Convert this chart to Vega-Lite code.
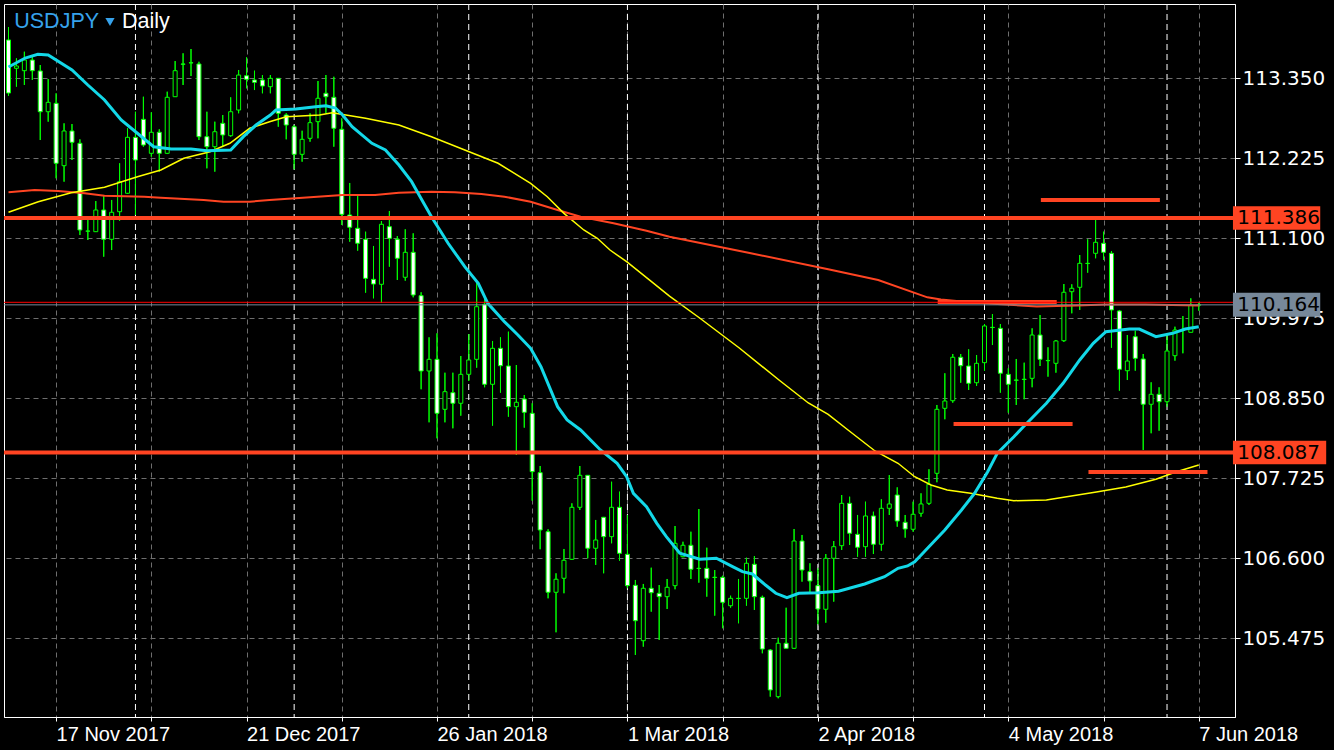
{
"$schema": "https://vega.github.io/schema/vega-lite/v6.json",
"width": 1231, "height": 713,
"autosize": {"type": "none"},
"padding": {"left": 4, "top": 4, "right": 99, "bottom": 33},
"background": "#000000",
"config": {"view": {"stroke": "#ffffff", "strokeWidth": 1}},
"datasets": {
"c": [
{"i":0,"o":113.889,"h":114.071,"l":113.101,"c":113.143},
{"i":1,"o":113.491,"h":113.631,"l":113.232,"c":113.523},
{"i":2,"o":113.457,"h":113.724,"l":113.256,"c":113.607},
{"i":3,"o":113.607,"h":113.678,"l":113.326,"c":113.457},
{"i":4,"o":113.453,"h":113.537,"l":112.482,"c":112.880},
{"i":5,"o":112.880,"h":113.340,"l":112.740,"c":113.012},
{"i":6,"o":112.998,"h":113.139,"l":111.944,"c":112.155},
{"i":7,"o":112.121,"h":112.717,"l":111.896,"c":112.609},
{"i":8,"o":112.609,"h":112.707,"l":112.201,"c":112.450},
{"i":9,"o":112.436,"h":112.492,"l":111.146,"c":111.217},
{"i":10,"o":111.203,"h":111.357,"l":111.076,"c":111.200},
{"i":11,"o":111.193,"h":111.624,"l":111.189,"c":111.498},
{"i":12,"o":111.498,"h":111.699,"l":110.841,"c":111.086},
{"i":13,"o":111.086,"h":111.639,"l":110.935,"c":111.466},
{"i":14,"o":111.474,"h":112.155,"l":111.347,"c":111.896},
{"i":15,"o":111.733,"h":112.647,"l":111.723,"c":112.520},
{"i":16,"o":112.520,"h":112.880,"l":111.428,"c":112.201},
{"i":17,"o":112.773,"h":113.091,"l":112.388,"c":112.412},
{"i":18,"o":112.295,"h":112.872,"l":112.247,"c":112.591},
{"i":19,"o":112.591,"h":112.633,"l":112.037,"c":112.295},
{"i":20,"o":112.295,"h":113.162,"l":112.285,"c":113.083},
{"i":21,"o":113.091,"h":113.593,"l":113.087,"c":113.457},
{"i":22,"o":113.551,"h":113.702,"l":113.256,"c":113.548},
{"i":23,"o":113.569,"h":113.762,"l":113.382,"c":113.566},
{"i":24,"o":113.551,"h":113.583,"l":112.482,"c":112.529},
{"i":25,"o":112.529,"h":112.880,"l":112.084,"c":112.388},
{"i":26,"o":112.388,"h":112.740,"l":112.037,"c":112.599},
{"i":27,"o":112.717,"h":112.834,"l":112.388,"c":112.553},
{"i":28,"o":112.543,"h":113.083,"l":112.529,"c":112.880},
{"i":29,"o":112.904,"h":113.467,"l":112.858,"c":113.396},
{"i":30,"o":113.386,"h":113.645,"l":113.209,"c":113.336},
{"i":31,"o":113.326,"h":113.457,"l":113.185,"c":113.294},
{"i":32,"o":113.326,"h":113.396,"l":113.139,"c":113.242},
{"i":33,"o":113.232,"h":113.396,"l":113.139,"c":113.350},
{"i":34,"o":113.350,"h":113.354,"l":112.669,"c":112.858},
{"i":35,"o":112.834,"h":112.858,"l":112.492,"c":112.693},
{"i":36,"o":112.669,"h":112.693,"l":112.070,"c":112.281},
{"i":37,"o":112.281,"h":112.613,"l":112.177,"c":112.492},
{"i":38,"o":112.506,"h":112.858,"l":112.458,"c":112.726},
{"i":39,"o":112.740,"h":113.312,"l":112.506,"c":113.069},
{"i":40,"o":113.139,"h":113.396,"l":112.858,"c":113.091},
{"i":41,"o":113.083,"h":113.372,"l":112.388,"c":112.647},
{"i":42,"o":112.633,"h":112.787,"l":111.287,"c":111.437},
{"i":43,"o":111.428,"h":111.878,"l":111.052,"c":111.255},
{"i":44,"o":111.241,"h":111.695,"l":110.926,"c":111.030},
{"i":45,"o":111.086,"h":111.193,"l":110.335,"c":110.537},
{"i":46,"o":110.523,"h":110.992,"l":110.256,"c":110.457},
{"i":47,"o":110.453,"h":111.343,"l":110.194,"c":111.297},
{"i":48,"o":111.263,"h":111.484,"l":110.701,"c":111.100},
{"i":49,"o":111.086,"h":111.132,"l":110.514,"c":110.819},
{"i":50,"o":110.552,"h":111.227,"l":110.504,"c":110.903},
{"i":51,"o":110.903,"h":111.170,"l":110.270,"c":110.303},
{"i":52,"o":110.293,"h":110.341,"l":108.977,"c":109.234},
{"i":53,"o":109.234,"h":109.708,"l":108.512,"c":109.398},
{"i":54,"o":109.398,"h":109.764,"l":108.287,"c":108.639},
{"i":55,"o":108.695,"h":109.210,"l":108.512,"c":108.943},
{"i":56,"o":108.929,"h":109.210,"l":108.428,"c":108.780},
{"i":57,"o":108.780,"h":109.445,"l":108.605,"c":109.187},
{"i":58,"o":109.187,"h":109.754,"l":109.093,"c":109.389},
{"i":59,"o":109.398,"h":110.476,"l":109.280,"c":110.138},
{"i":60,"o":110.172,"h":110.289,"l":109.005,"c":109.047},
{"i":61,"o":109.047,"h":109.656,"l":108.465,"c":109.553},
{"i":62,"o":109.553,"h":109.708,"l":108.929,"c":109.308},
{"i":63,"o":109.304,"h":109.787,"l":108.591,"c":108.732},
{"i":64,"o":108.732,"h":109.318,"l":108.053,"c":108.794},
{"i":65,"o":108.840,"h":108.896,"l":108.437,"c":108.653},
{"i":66,"o":108.639,"h":108.780,"l":107.410,"c":107.818},
{"i":67,"o":107.804,"h":107.898,"l":106.727,"c":106.998},
{"i":68,"o":106.974,"h":107.008,"l":106.037,"c":106.122},
{"i":69,"o":106.122,"h":106.389,"l":105.559,"c":106.305},
{"i":70,"o":106.319,"h":106.731,"l":106.108,"c":106.572},
{"i":71,"o":106.586,"h":107.373,"l":106.576,"c":107.317},
{"i":72,"o":107.317,"h":107.898,"l":107.279,"c":107.767},
{"i":73,"o":107.767,"h":107.771,"l":106.600,"c":106.741},
{"i":74,"o":106.741,"h":107.139,"l":106.506,"c":106.857},
{"i":75,"o":107.177,"h":107.181,"l":106.389,"c":106.904},
{"i":76,"o":106.904,"h":107.677,"l":106.811,"c":107.317},
{"i":77,"o":107.317,"h":107.537,"l":106.566,"c":106.670},
{"i":78,"o":106.656,"h":107.209,"l":106.178,"c":106.215},
{"i":79,"o":106.220,"h":106.295,"l":105.240,"c":105.722},
{"i":80,"o":105.441,"h":106.239,"l":105.357,"c":106.178},
{"i":81,"o":106.178,"h":106.468,"l":105.849,"c":106.116},
{"i":82,"o":106.108,"h":106.224,"l":105.451,"c":106.060},
{"i":83,"o":106.060,"h":106.309,"l":105.887,"c":106.192},
{"i":84,"o":106.215,"h":107.054,"l":106.164,"c":106.811},
{"i":85,"o":106.622,"h":106.833,"l":106.614,"c":106.783},
{"i":86,"o":106.783,"h":106.974,"l":106.309,"c":106.445},
{"i":87,"o":106.459,"h":107.293,"l":106.257,"c":106.456},
{"i":88,"o":106.459,"h":106.749,"l":106.060,"c":106.319},
{"i":89,"o":106.333,"h":106.435,"l":105.793,"c":106.330},
{"i":90,"o":106.333,"h":106.355,"l":105.616,"c":105.981},
{"i":91,"o":105.933,"h":106.074,"l":105.905,"c":106.037},
{"i":92,"o":106.037,"h":106.309,"l":105.686,"c":106.034},
{"i":93,"o":106.037,"h":106.608,"l":105.933,"c":106.530},
{"i":94,"o":106.516,"h":106.632,"l":105.873,"c":106.060},
{"i":95,"o":106.051,"h":106.074,"l":105.264,"c":105.324},
{"i":96,"o":105.310,"h":105.324,"l":104.654,"c":104.748},
{"i":97,"o":104.654,"h":105.483,"l":104.631,"c":105.405},
{"i":98,"o":105.405,"h":105.905,"l":105.334,"c":105.334},
{"i":99,"o":105.334,"h":107.012,"l":105.324,"c":106.843},
{"i":100,"o":106.843,"h":106.928,"l":106.271,"c":106.435},
{"i":101,"o":106.412,"h":106.530,"l":106.108,"c":106.281},
{"i":102,"o":106.215,"h":106.459,"l":105.672,"c":105.887},
{"i":103,"o":105.883,"h":106.660,"l":105.694,"c":106.600},
{"i":104,"o":106.600,"h":106.843,"l":105.990,"c":106.763},
{"i":105,"o":106.777,"h":107.490,"l":106.717,"c":107.373},
{"i":106,"o":107.373,"h":107.466,"l":106.787,"c":106.952},
{"i":107,"o":106.937,"h":107.209,"l":106.622,"c":106.755},
{"i":108,"o":106.763,"h":107.396,"l":106.622,"c":107.195},
{"i":109,"o":107.195,"h":107.255,"l":106.660,"c":106.797},
{"i":110,"o":106.797,"h":107.430,"l":106.707,"c":107.303},
{"i":111,"o":107.303,"h":107.771,"l":107.209,"c":107.364},
{"i":112,"o":107.490,"h":107.598,"l":107.044,"c":107.124},
{"i":113,"o":107.106,"h":107.209,"l":106.890,"c":107.012},
{"i":114,"o":107.008,"h":107.396,"l":106.974,"c":107.219},
{"i":115,"o":107.233,"h":107.514,"l":107.185,"c":107.364},
{"i":116,"o":107.373,"h":107.852,"l":107.349,"c":107.641},
{"i":117,"o":107.795,"h":108.756,"l":107.669,"c":108.695},
{"i":118,"o":108.709,"h":109.202,"l":108.555,"c":108.812},
{"i":119,"o":108.816,"h":109.473,"l":108.788,"c":109.427},
{"i":120,"o":109.427,"h":109.473,"l":109.069,"c":109.308},
{"i":121,"o":109.304,"h":109.539,"l":108.967,"c":109.061},
{"i":122,"o":109.069,"h":109.459,"l":109.023,"c":109.342},
{"i":123,"o":109.351,"h":109.895,"l":109.238,"c":109.867},
{"i":124,"o":109.848,"h":110.035,"l":109.599,"c":109.845},
{"i":125,"o":109.834,"h":109.895,"l":108.929,"c":109.202},
{"i":126,"o":109.187,"h":109.272,"l":108.647,"c":109.047},
{"i":127,"o":109.107,"h":109.403,"l":108.756,"c":109.104},
{"i":128,"o":109.114,"h":109.351,"l":108.836,"c":109.118},
{"i":129,"o":109.131,"h":109.834,"l":109.005,"c":109.740},
{"i":130,"o":109.740,"h":110.021,"l":109.304,"c":109.398},
{"i":131,"o":109.379,"h":109.567,"l":109.154,"c":109.382},
{"i":132,"o":109.342,"h":109.670,"l":109.210,"c":109.656},
{"i":133,"o":109.660,"h":110.457,"l":109.642,"c":110.341},
{"i":134,"o":110.349,"h":110.453,"l":110.045,"c":110.397},
{"i":135,"o":110.411,"h":110.865,"l":110.092,"c":110.748},
{"i":136,"o":110.748,"h":111.086,"l":110.616,"c":110.745},
{"i":137,"o":110.889,"h":111.357,"l":110.819,"c":111.044},
{"i":138,"o":111.030,"h":111.193,"l":110.795,"c":110.903},
{"i":139,"o":110.889,"h":110.921,"l":109.561,"c":110.092},
{"i":140,"o":110.078,"h":110.092,"l":108.957,"c":109.258},
{"i":141,"o":109.238,"h":109.740,"l":109.107,"c":109.374},
{"i":142,"o":109.716,"h":109.800,"l":109.238,"c":109.412},
{"i":143,"o":109.403,"h":109.473,"l":108.123,"c":108.766},
{"i":144,"o":108.766,"h":109.075,"l":108.358,"c":108.906},
{"i":145,"o":108.906,"h":109.005,"l":108.394,"c":108.802},
{"i":146,"o":108.802,"h":109.740,"l":108.732,"c":109.515},
{"i":147,"o":109.449,"h":109.857,"l":109.379,"c":109.810},
{"i":148,"o":109.810,"h":110.007,"l":109.483,"c":109.806},
{"i":149,"o":109.778,"h":110.256,"l":109.778,"c":110.162},
{"i":150,"o":110.160,"h":110.195,"l":110.082,"c":110.164}
],
"ma21": [
{"i":0,"p":113.509},{"i":2.1,"p":113.635},{"i":3.7,"p":113.687},{"i":5.0,"p":113.678},{"i":8.0,"p":113.467},{"i":10.0,"p":113.256},{"i":12.1,"p":113.045},{"i":14.2,"p":112.764},{"i":16.2,"p":112.581},{"i":18.3,"p":112.388},{"i":20.5,"p":112.356},{"i":23.0,"p":112.356},{"i":25.0,"p":112.332},{"i":28.0,"p":112.342},{"i":29.6,"p":112.529},{"i":31.2,"p":112.693},{"i":33.0,"p":112.834},{"i":33.7,"p":112.904},{"i":36.2,"p":112.918},{"i":38.7,"p":112.951},{"i":40.0,"p":112.965},{"i":41.2,"p":112.932},{"i":42.1,"p":112.834},{"i":43.3,"p":112.669},{"i":45.8,"p":112.436},{"i":47.5,"p":112.342},{"i":49.2,"p":112.131},{"i":50.8,"p":111.896},{"i":52.1,"p":111.639},{"i":53.3,"p":111.404},{"i":55.4,"p":111.030},{"i":57.5,"p":110.701},{"i":59.2,"p":110.467},{"i":60.4,"p":110.186},{"i":62.5,"p":109.927},{"i":64.2,"p":109.740},{"i":65.8,"p":109.553},{"i":67.1,"p":109.294},{"i":69.2,"p":108.732},{"i":70.4,"p":108.545},{"i":72.1,"p":108.404},{"i":74.6,"p":108.123},{"i":76.7,"p":107.936},{"i":77.9,"p":107.747},{"i":78.75,"p":107.514},{"i":80.4,"p":107.326},{"i":81.7,"p":107.092},{"i":82.9,"p":106.904},{"i":84.6,"p":106.670},{"i":87.1,"p":106.586},{"i":89.2,"p":106.600},{"i":91.25,"p":106.482},{"i":92.5,"p":106.412},{"i":93.75,"p":106.379},{"i":95.4,"p":106.224},{"i":96.7,"p":106.108},{"i":98.1,"p":106.046},{"i":99.6,"p":106.108},{"i":102.1,"p":106.116},{"i":104.6,"p":106.136},{"i":107.9,"p":106.239},{"i":110.4,"p":106.341},{"i":112.1,"p":106.459},{"i":113.3,"p":106.492},{"i":114.2,"p":106.552},{"i":115.4,"p":106.693},{"i":118.0,"p":106.998},{"i":120.1,"p":107.279},{"i":121.75,"p":107.514},{"i":123.4,"p":107.818},{"i":124.6,"p":108.076},{"i":126.7,"p":108.310},{"i":127.9,"p":108.451},{"i":130.8,"p":108.780},{"i":132.9,"p":109.061},{"i":135.0,"p":109.389},{"i":136.7,"p":109.623},{"i":138.3,"p":109.786},{"i":141.25,"p":109.824},{"i":142.5,"p":109.824},{"i":144.6,"p":109.716},{"i":146.7,"p":109.764},{"i":148.3,"p":109.824},{"i":150,"p":109.857}
],
"ma50": [
{"i":0,"p":111.466},{"i":3.75,"p":111.615},{"i":7.9,"p":111.741},{"i":12.1,"p":111.817},{"i":16.25,"p":111.966},{"i":19.2,"p":112.060},{"i":22.1,"p":112.225},{"i":25.4,"p":112.318},{"i":27.9,"p":112.436},{"i":30.4,"p":112.647},{"i":32.9,"p":112.740},{"i":35.0,"p":112.810},{"i":39.2,"p":112.834},{"i":40.8,"p":112.866},{"i":45.0,"p":112.787},{"i":49.2,"p":112.693},{"i":53.3,"p":112.529},{"i":57.5,"p":112.342},{"i":61.7,"p":112.155},{"i":65.8,"p":111.873},{"i":67.9,"p":111.685},{"i":70.0,"p":111.451},{"i":72.5,"p":111.217},{"i":74.2,"p":111.100},{"i":75.8,"p":110.935},{"i":77.9,"p":110.771},{"i":80.8,"p":110.513},{"i":83.3,"p":110.288},{"i":87.1,"p":109.979},{"i":92.1,"p":109.557},{"i":97.1,"p":109.107},{"i":100.8,"p":108.784},{"i":103.3,"p":108.625},{"i":105.8,"p":108.404},{"i":109.2,"p":108.109},{"i":112.1,"p":107.936},{"i":114.2,"p":107.747},{"i":116.25,"p":107.631},{"i":118.3,"p":107.560},{"i":121.25,"p":107.514},{"i":124.6,"p":107.444},{"i":126.7,"p":107.410},{"i":130.8,"p":107.420},{"i":137.1,"p":107.532},{"i":140.8,"p":107.603},{"i":144.6,"p":107.711},{"i":147.1,"p":107.814},{"i":150,"p":107.912}
],
"ma200": [
{"i":0,"p":111.747},{"i":3.3,"p":111.779},{"i":6.25,"p":111.765},{"i":9.6,"p":111.733},{"i":12.1,"p":111.699},{"i":17.1,"p":111.685},{"i":19.2,"p":111.671},{"i":24.6,"p":111.639},{"i":27.1,"p":111.615},{"i":30.4,"p":111.615},{"i":32.9,"p":111.639},{"i":37.1,"p":111.671},{"i":42.1,"p":111.709},{"i":46.2,"p":111.709},{"i":49.2,"p":111.741},{"i":53.3,"p":111.755},{"i":56.25,"p":111.747},{"i":59.6,"p":111.723},{"i":62.5,"p":111.685},{"i":65.8,"p":111.615},{"i":69.2,"p":111.498},{"i":72.1,"p":111.404},{"i":76.25,"p":111.311},{"i":80.4,"p":111.207},{"i":83.3,"p":111.122},{"i":93.4,"p":110.893},{"i":103.3,"p":110.664},{"i":109.6,"p":110.513},{"i":115.8,"p":110.270},{"i":117.5,"p":110.239},{"i":120.8,"p":110.204},{"i":124.6,"p":110.176},{"i":129.6,"p":110.141},{"i":134.6,"p":110.155},{"i":138.3,"p":110.169},{"i":143.3,"p":110.169},{"i":150,"p":110.155}
],
"seps": [{"i":16},{"i":36},{"i":58},{"i":78},{"i":102},{"i":123},{"i":146}],
"segs": [
{"i0":130.1,"i1":145.1,"p":111.639},
{"i0":117.1,"i1":132.1,"p":110.204},
{"i0":119.1,"i1":134.1,"p":108.489},
{"i0":136.1,"i1":151.1,"p":107.814}
],
"levels": [{"p":111.386},{"p":108.087}]
},
"layer": [
{
"data": {"name": "c"},
"mark": {"type": "rule", "color": "#00ff00", "strokeWidth": 1, "clip": true},
"encoding": {
"x": {"field": "i", "type": "quantitative", "title": null,
"scale": {"domain": [0.0625, 153.9375], "nice": false, "zero": false},
"axis": {"values": [6,18,30,42,54,66,78,90,102,114,126,138,150],
"labelExpr": "datum.value == 6 ? '17 Nov 2017' : datum.value == 30 ? '21 Dec 2017' : datum.value == 54 ? '26 Jan 2018' : datum.value == 78 ? '1 Mar 2018' : datum.value == 102 ? '2 Apr 2018' : datum.value == 126 ? '4 May 2018' : datum.value == 150 ? '7 Jun 2018' : ''",
"labelAlign": "left", "labelColor": "#ffffff", "labelFont": "Liberation Sans Narrow, Liberation Sans", "labelFontSize": 20, "labelPadding": 3,
"labelOverlap": false, "labelFlush": false, "labelBound": false,
"tickColor": "#ffffff", "tickSize": 4, "domainColor": "#ffffff",
"grid": true, "gridColor": "#6e6e6e", "gridDash": [5, 4], "gridWidth": 1, "title": null}},
"y": {"field": "l", "type": "quantitative", "title": null,
"scale": {"domain": [104.368, 114.395], "nice": false, "zero": false},
"axis": {"orient": "right", "values": [105.475, 106.6, 107.725, 108.85, 109.975, 111.1, 112.225, 113.35], "format": ".3f",
"labelColor": "#ffffff", "labelFont": "DejaVu Sans", "labelFontSize": 20, "labelPadding": 2,
"labelOverlap": false, "labelFlush": false, "labelBound": false,
"tickColor": "#ffffff", "tickSize": 5, "domainColor": "#ffffff",
"grid": true, "gridColor": "#6e6e6e", "gridDash": [5, 4], "gridWidth": 1, "title": null}},
"y2": {"field": "h"}
}
},
{
"data": {"name": "seps"},
"mark": {"type": "rule", "color": "#ffffff", "strokeWidth": 1, "strokeDash": [6, 4]},
"encoding": {
"x": {"field": "i", "type": "quantitative", "scale": {"domain": [0.0625, 153.9375], "nice": false, "zero": false}, "title": null}
}
},
{
"data": {"name": "c"},
"mark": {"type": "rule", "color": "#00ff00", "strokeWidth": 1, "clip": true},
"encoding": {
"x": {"field": "i", "type": "quantitative", "scale": {"domain": [0.0625, 153.9375], "nice": false, "zero": false}, "title": null},
"y": {"field": "l", "type": "quantitative", "scale": {"domain": [104.368, 114.395], "nice": false, "zero": false}, "title": null},
"y2": {"field": "h"}
}
},
{
"data": {"name": "c"},
"mark": {"type": "bar", "width": 4, "stroke": "#00ff00", "strokeWidth": 1, "clip": true},
"encoding": {
"x": {"field": "i", "type": "quantitative", "scale": {"domain": [0.0625, 153.9375], "nice": false, "zero": false}, "title": null},
"y": {"field": "o", "type": "quantitative", "scale": {"domain": [104.368, 114.395], "nice": false, "zero": false}, "title": null},
"y2": {"field": "c"},
"fill": {"condition": {"test": "datum.c >= datum.o", "value": "#000000"}, "value": "#ffffff"}
}
},
{
"data": {"name": "ma200"},
"mark": {"type": "line", "color": "#ff4422", "strokeWidth": 2, "clip": true},
"encoding": {
"x": {"field": "i", "type": "quantitative", "scale": {"domain": [0.0625, 153.9375], "nice": false, "zero": false}, "title": null},
"y": {"field": "p", "type": "quantitative", "scale": {"domain": [104.368, 114.395], "nice": false, "zero": false}, "title": null}
}
},
{
"data": {"name": "ma50"},
"mark": {"type": "line", "color": "#ffff00", "strokeWidth": 1.5, "clip": true},
"encoding": {
"x": {"field": "i", "type": "quantitative", "scale": {"domain": [0.0625, 153.9375], "nice": false, "zero": false}, "title": null},
"y": {"field": "p", "type": "quantitative", "scale": {"domain": [104.368, 114.395], "nice": false, "zero": false}, "title": null}
}
},
{
"data": {"name": "ma21"},
"mark": {"type": "line", "color": "#13d8e8", "strokeWidth": 3, "clip": true},
"encoding": {
"x": {"field": "i", "type": "quantitative", "scale": {"domain": [0.0625, 153.9375], "nice": false, "zero": false}, "title": null},
"y": {"field": "p", "type": "quantitative", "scale": {"domain": [104.368, 114.395], "nice": false, "zero": false}, "title": null}
}
},
{
"data": {"name": "segs"},
"mark": {"type": "rule", "color": "#ff4422", "strokeWidth": 4, "clip": true},
"encoding": {
"x": {"field": "i0", "type": "quantitative", "scale": {"domain": [0.0625, 153.9375], "nice": false, "zero": false}, "title": null},
"x2": {"field": "i1"},
"y": {"field": "p", "type": "quantitative", "scale": {"domain": [104.368, 114.395], "nice": false, "zero": false}, "title": null}
}
},
{
"data": {"name": "levels"},
"mark": {"type": "rule", "color": "#ff4422", "strokeWidth": 4},
"encoding": {
"y": {"field": "p", "type": "quantitative", "scale": {"domain": [104.368, 114.395], "nice": false, "zero": false}, "title": null}
}
},
{
"data": {"values": [{"p": 110.200}]},
"mark": {"type": "rule", "color": "#ff0000", "strokeWidth": 1},
"encoding": {
"y": {"field": "p", "type": "quantitative", "scale": {"domain": [104.368, 114.395], "nice": false, "zero": false}, "title": null}
}
},
{
"data": {"values": [{"p": 110.164}]},
"mark": {"type": "rule", "color": "#778899", "strokeWidth": 1},
"encoding": {
"y": {"field": "p", "type": "quantitative", "scale": {"domain": [104.368, 114.395], "nice": false, "zero": false}, "title": null}
}
},
{
"data": {"values": [{"p": 111.386}]},
"mark": {"type": "rule", "color": "#ff4422", "strokeWidth": 23.5, "strokeCap": "butt"},
"encoding": {
"x": {"datum": 154.31, "type": "quantitative", "scale": {"domain": [0.0625, 153.9375], "nice": false, "zero": false}, "title": null},
"x2": {"datum": 165.31},
"y": {"field": "p", "type": "quantitative", "scale": {"domain": [104.368, 114.395], "nice": false, "zero": false}, "title": null}
}
},
{
"data": {"values": [{"p": 108.087}]},
"mark": {"type": "rule", "color": "#ff4422", "strokeWidth": 23.5, "strokeCap": "butt"},
"encoding": {
"x": {"datum": 154.31, "type": "quantitative", "scale": {"domain": [0.0625, 153.9375], "nice": false, "zero": false}, "title": null},
"x2": {"datum": 166.06},
"y": {"field": "p", "type": "quantitative", "scale": {"domain": [104.368, 114.395], "nice": false, "zero": false}, "title": null}
}
},
{
"data": {"values": [{"p": 110.164}]},
"mark": {"type": "rule", "color": "#778899", "strokeWidth": 24, "strokeCap": "butt"},
"encoding": {
"x": {"datum": 154.31, "type": "quantitative", "scale": {"domain": [0.0625, 153.9375], "nice": false, "zero": false}, "title": null},
"x2": {"datum": 165.31},
"y": {"field": "p", "type": "quantitative", "scale": {"domain": [104.368, 114.395], "nice": false, "zero": false}, "title": null}
}
},
{
"data": {"values": [{"p": 111.386}, {"p": 108.087}, {"p": 110.164}]},
"mark": {"type": "text", "align": "left", "baseline": "middle", "font": "DejaVu Sans", "fontSize": 20, "color": "#000000"},
"encoding": {
"x": {"datum": 154.85, "type": "quantitative", "scale": {"domain": [0.0625, 153.9375], "nice": false, "zero": false}, "title": null},
"y": {"field": "p", "type": "quantitative", "scale": {"domain": [104.368, 114.395], "nice": false, "zero": false}, "title": null},
"text": {"field": "p", "type": "quantitative", "format": ".3f"}
}
},
{
"data": {"values": [{"t": "USDJPY"}]},
"mark": {"type": "text", "align": "left", "baseline": "alphabetic", "font": "Liberation Sans", "fontSize": 21.5, "color": "#36a2eb"},
"encoding": {
"x": {"datum": 0.725, "type": "quantitative", "scale": {"domain": [0.0625, 153.9375], "nice": false, "zero": false}, "title": null},
"y": {"datum": 114.053, "type": "quantitative", "scale": {"domain": [104.368, 114.395], "nice": false, "zero": false}, "title": null},
"text": {"field": "t"}
}
},
{
"data": {"values": [{"t": "Daily"}]},
"mark": {"type": "text", "align": "left", "baseline": "alphabetic", "font": "Liberation Sans", "fontSize": 21.5, "color": "#ffffff"},
"encoding": {
"x": {"datum": 14.31, "type": "quantitative", "scale": {"domain": [0.0625, 153.9375], "nice": false, "zero": false}, "title": null},
"y": {"datum": 114.053, "type": "quantitative", "scale": {"domain": [104.368, 114.395], "nice": false, "zero": false}, "title": null},
"text": {"field": "t"}
}
},
{
"data": {"values": [{"t": "v"}]},
"mark": {"type": "point", "shape": "triangle-down", "filled": true, "size": 85, "color": "#36a2eb", "opacity": 1},
"encoding": {
"x": {"datum": 12.79, "type": "quantitative", "scale": {"domain": [0.0625, 153.9375], "nice": false, "zero": false}, "title": null},
"y": {"datum": 114.142, "type": "quantitative", "scale": {"domain": [104.368, 114.395], "nice": false, "zero": false}, "title": null}
}
}
]
}
